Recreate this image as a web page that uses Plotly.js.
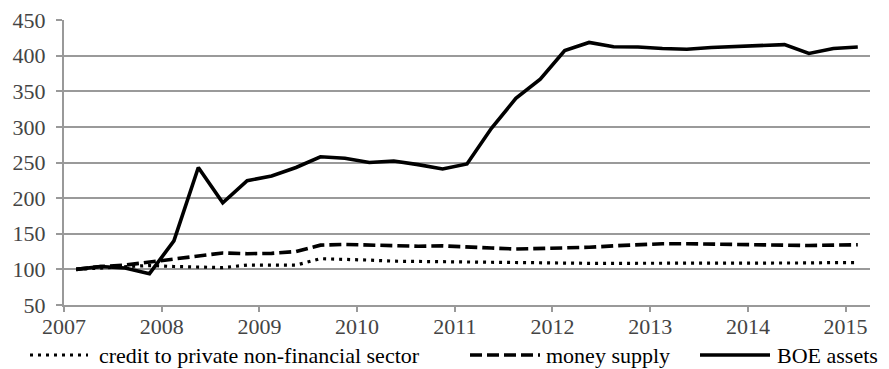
<!DOCTYPE html>
<html>
<head>
<meta charset="utf-8">
<script src="https://cdn.plot.ly/plotly-3.0.1.min.js"></script>
</head>
<body style="margin:0;background:#fff">
<div style="position:relative;width:889px;height:369px">
  <div style="position:absolute;left:99px;top:345px;z-index:2;font-family:'Liberation Serif';font-size:22px;line-height:22px;color:#000;white-space:nowrap">credit to private non-financial sector</div>
  <div style="position:absolute;left:546px;top:345px;z-index:2;font-family:'Liberation Serif';font-size:22px;line-height:22px;color:#000;white-space:nowrap">money supply</div>
  <div style="position:absolute;left:777px;top:345px;z-index:2;font-family:'Liberation Serif';font-size:22px;line-height:22px;color:#000;white-space:nowrap">BOE assets</div>
  <div id="chart" style="position:absolute;left:0;top:0;width:889px;height:369px"></div>
</div>
<script>
// Quarterly index values, 2007 Q1 = 100
const quarters = [];
for (let y = 2007; y <= 2015; y++) {
  for (let q = 0; q < 4; q++) {
    if (y === 2015 && q > 0) break;
    quarters.push(y + (q + 0.5) / 4);
  }
}

const credit = [100, 102, 104, 105.5, 104, 103, 102.5, 106, 106.5, 106, 115, 114.5, 113, 111.5, 111, 110.5,
                110, 109.5, 109, 109, 108.5, 108.5, 108.5, 108.5, 108, 108, 108.5, 108.5, 108.5, 109, 109, 109.5, 109.5];
const moneySupply = [100, 104, 106, 110.5, 114, 119, 123, 122, 122.5, 125, 134, 135, 134, 133, 132.5, 133,
                     132, 130, 128.5, 129, 130, 131, 133, 135, 136, 136, 135.5, 134, 134, 134, 133.5, 134, 134.5];
const boeAssets = [100, 104, 102, 94, 140, 243, 193.5, 224.5, 231, 243, 258, 256, 250, 252, 247, 241,
                   248, 298, 340, 367, 407, 418.5, 412.5, 412, 410, 409, 411.5, 412.5, 413.5, 415.5, 403, 410, 412];

const yearTicks = [2007, 2008, 2009, 2010, 2011, 2012, 2013, 2014, 2015];
const yTicks = [50, 100, 150, 200, 250, 300, 350, 400, 450];

const seriesNames = ['credit to private non-financial sector', 'money supply', 'BOE assets'];

// Times-like serif for every label
const serif = () => ({ family: 'Liberation Serif', size: 22 });

const styles = [
  { color: '#000', width: 3.2, dash: '3px,5px' },
  { color: '#000', width: 3.6, dash: '12px,5px' },
  { color: '#000', width: 3.6, dash: 'solid' }
];

const seriesData = [credit, moneySupply, boeAssets];
const traces = seriesData.map((vals, i) => ({
  x: quarters, y: vals, name: seriesNames[i], mode: 'lines', line: styles[i], showlegend: false
}));

// Key strokes under the axis, each followed by its series name
const margin = { l: 64, r: 19, t: 20, b: 64 };
const plotW = 889 - margin.l - margin.r;
const plotH = 369 - margin.t - margin.b;
const px = v => (v - margin.l) / plotW;          // page x -> paper x
const py = v => (369 - margin.b - v) / plotH;    // page y -> paper y
const keyRow = 355;
const keySlots = [
  { x0: 30, x1: 88 },
  { x0: 470, x1: 540 },
  { x0: 700, x1: 770 }
];

const shapes = keySlots.map((s, i) => ({
  type: 'line', xref: 'paper', yref: 'paper',
  x0: px(s.x0), x1: px(s.x1), y0: py(keyRow), y1: py(keyRow),
  line: styles[i]
}));

const layout = {
  width: 889, height: 369,
  margin: margin,
  paper_bgcolor: 'rgba(0,0,0,0)', plot_bgcolor: '#fff',
  showlegend: false,
  shapes: shapes,
  xaxis: {
    range: [2007, 2015.25],
    tickvals: yearTicks, ticktext: yearTicks.map(String),
    showgrid: false, zeroline: false,
    showline: true, linecolor: '#999', linewidth: 2,
    ticks: 'outside', ticklen: 5, tickwidth: 2, tickcolor: '#999',
    ticklabelstandoff: -4,
    tickfont: serif()
  },
  yaxis: {
    range: [50, 450],
    tickvals: yTicks,
    showgrid: true, gridcolor: '#9a9a9a', gridwidth: 2,
    zeroline: false,
    showline: true, linecolor: '#999', linewidth: 2,
    ticks: 'outside', ticklen: 6, tickwidth: 2, tickcolor: '#999',
    ticklabelstandoff: 6,
    tickfont: serif()
  }
};

Plotly.newPlot('chart', traces, layout, { displayModeBar: false, staticPlot: true });
</script>
</body>
</html>
